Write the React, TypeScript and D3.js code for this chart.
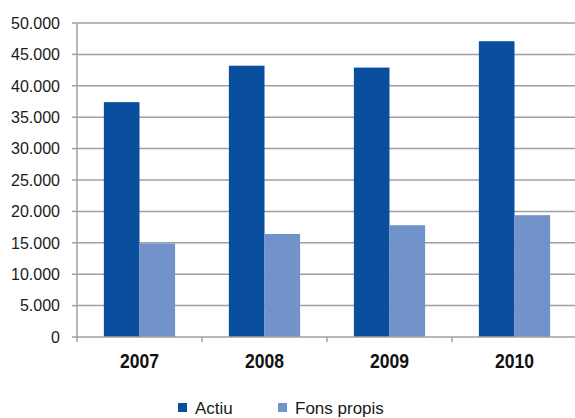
import React from "react";
import * as d3 from "d3";

const years = ["2007", "2008", "2009", "2010"];
const seriesNames = ["Actiu", "Fons propis"];
const actiu = [37400, 43200, 42900, 47100];
const fonsPropis = [14900, 16400, 17800, 19400];
const yTicks = [0, 5000, 10000, 15000, 20000, 25000, 30000, 35000, 40000, 45000, 50000];
const colors = ["#0a4f9d", "#7193c9"];

const W = 575;
const H = 418;
const left = 77;
const right = 577;
const top = 23;
const bottom = 337;

const locale = d3.formatLocale({ decimal: ",", thousands: ".", grouping: [3], currency: ["", "€"] });
const fmt = locale.format(",");

export default function App() {
  const x0 = d3.scaleBand<string>().domain(years).range([left, right]).paddingInner(0.43).paddingOuter(0.215);
  const x1 = d3.scaleBand<string>().domain(seriesNames).range([0, x0.bandwidth()]).padding(0);
  const y = d3.scaleLinear().domain([0, 50000]).range([bottom, top]);
  const step = x0.step();
  const seriesData = [actiu, fonsPropis];
  const boundaries = d3.range(years.length + 1).map((i) => left + i * step);

  return (
    <svg width={W} height={H} style={{ position: "absolute", left: 0, top: 0, background: "#fff" }}
      fontFamily="'Liberation Sans', Arial, sans-serif">
      {yTicks.map((t) => (
        <g key={t}>
          {t > 0 && <line x1={left} x2={W} y1={y(t)} y2={y(t)} stroke="#a0a0a0" strokeWidth={1.5} />}
          <line x1={left - 5} x2={left} y1={y(t)} y2={y(t)} stroke="#a0a0a0" strokeWidth={1.5} />
          <text x={60} y={y(t)} dy="0.36em" textAnchor="end" fontSize={16} fill="#1a1a1a">{fmt(t)}</text>
        </g>
      ))}
      {years.map((yr, i) => (
        <g key={yr}>
          {seriesData.map((s, j) => (
            <rect key={j} x={(x0(yr) as number) + (x1(seriesNames[j]) as number)} y={y(s[i])}
              width={x1.bandwidth()} height={y(0) - y(s[i])} fill={colors[j]} />
          ))}
          <text x={(x0(yr) as number) + x0.bandwidth() / 2 - 19.5} y={368} fontWeight="bold"
            fontSize={21} textLength={39} lengthAdjust="spacingAndGlyphs" fill="#111">{yr}</text>
        </g>
      ))}
      <line x1={left} x2={left} y1={top} y2={bottom} stroke="#a0a0a0" strokeWidth={1.5} />
      <line x1={left} x2={W} y1={bottom} y2={bottom} stroke="#a0a0a0" strokeWidth={1.5} />
      {boundaries.map((b, i) => (
        <line key={i} x1={b} x2={b} y1={bottom} y2={bottom + 5} stroke="#a0a0a0" strokeWidth={1.5} />
      ))}
      {seriesNames.map((n, j) => (
        <g key={n} transform={`translate(${178 + j * 100},0)`}>
          <rect x={0} y={403} width={9} height={9} fill={colors[j]} />
          <text x={17} y={414} fontSize={17} fill="#1a1a1a">{n}</text>
        </g>
      ))}
    </svg>
  );
}
